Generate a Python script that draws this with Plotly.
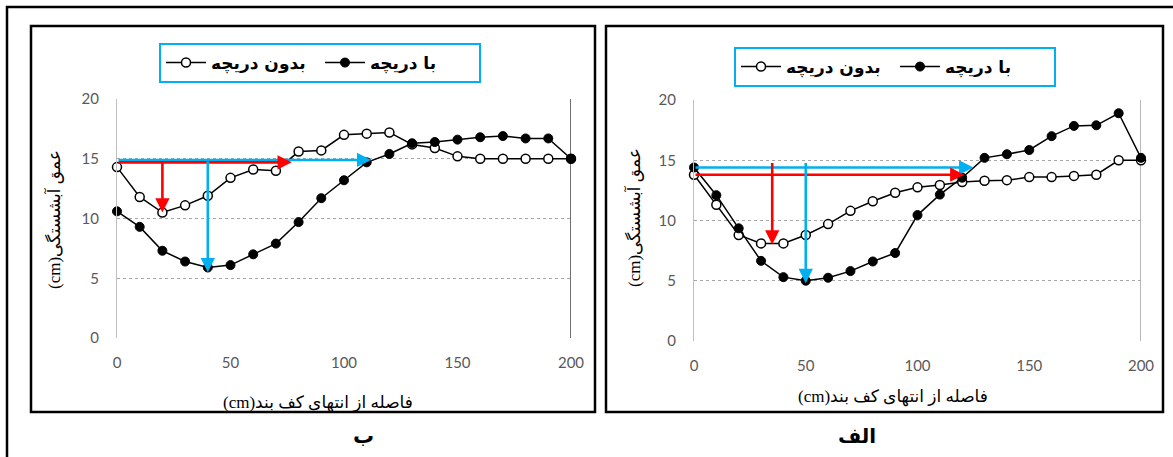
import plotly.graph_objects as go

# ---------------- data ----------------
distance = [0, 10, 20, 30, 40, 50, 60, 70, 80, 90, 100, 110, 120, 130, 140, 150, 160, 170, 180, 190, 200]

# panel "ب" (left)
b_without_gate = [14.3, 11.8, 10.5, 11.1, 11.9, 13.4, 14.1, 14.0, 15.6, 15.7, 17.0, 17.1, 17.2, 16.2, 15.9, 15.2, 15.0, 15.0, 15.0, 15.0, 15.0]
b_with_gate = [10.6, 9.3, 7.3, 6.4, 5.9, 6.1, 7.0, 7.9, 9.7, 11.7, 13.2, 14.7, 15.4, 16.3, 16.4, 16.6, 16.8, 16.9, 16.7, 16.7, 15.0]

# panel "الف" (right)
a_without_gate = [13.8, 11.3, 8.8, 8.1, 8.1, 8.8, 9.7, 10.8, 11.6, 12.3, 12.75, 12.95, 13.2, 13.3, 13.35, 13.6, 13.6, 13.7, 13.8, 15.0, 15.0]
a_with_gate = [14.4, 12.1, 9.35, 6.65, 5.3, 5.0, 5.25, 5.8, 6.6, 7.3, 10.45, 12.15, 13.55, 15.2, 15.5, 15.85, 17.0, 17.85, 17.9, 18.9, 15.2]

# arrows: (x_start, y_start, x_end, y_end, colour-key)
b_arrows = [
    (0, 14.9, 112, 14.9, "blue"),
    (0, 14.7, 77, 14.7, "red"),
    (20, 14.9, 20, 10.5, "red"),
    (40, 14.9, 40, 5.5, "blue"),
]
a_arrows = [
    (0, 14.4, 125, 14.4, "blue"),
    (0, 13.8, 121, 13.8, "red"),
    (35, 14.9, 35, 8.0, "red"),
    (50, 14.9, 50, 4.8, "blue"),
]

x_ticks = [0, 50, 100, 150, 200]
y_ticks = [0, 5, 10, 15, 20]

name_with = "با دریچه"
name_without = "بدون دریچه"
x_title = "(cm)فاصله از انتهای کف بند"
y_title = "(cm)عمق آبشستگی"
label_b = "ب"
label_a = "الف"

# ---------------- styling ----------------
W, H = 1173, 457
def fx(p):
    return p / W
def fy(p):
    return 1 - p / H

COLORS = {"blue": "#00b0f0", "red": "#ff0000"}
persian_font = "DejaVu Sans"
tick_font = dict(family="Lato, Open Sans, sans-serif", size=15, color="#595959")

fig = go.Figure()

def add_series(xa, ya, leg, open_vals, filled_vals):
    fig.add_trace(go.Scatter(
        x=distance, y=open_vals, name=name_without, mode="lines+markers",
        xaxis=xa, yaxis=ya, legend=leg, cliponaxis=False,
        line=dict(color="black", width=1.5),
        marker=dict(symbol="circle", size=9, color="white", line=dict(color="black", width=1.5)),
    ))
    fig.add_trace(go.Scatter(
        x=distance, y=filled_vals, name=name_with, mode="lines+markers",
        xaxis=xa, yaxis=ya, legend=leg, cliponaxis=False,
        line=dict(color="black", width=1.5),
        marker=dict(symbol="circle", size=9, color="black", line=dict(color="black", width=1)),
    ))

add_series("x", "y", "legend", b_without_gate, b_with_gate)
add_series("x2", "y2", "legend2", a_without_gate, a_with_gate)

def xaxis_cfg(dom, anchor):
    return dict(domain=dom, range=[0, 200], tickvals=x_ticks, showgrid=False, zeroline=False,
                showline=True, linecolor="white", linewidth=2, ticks="", anchor=anchor,
                tickfont=tick_font, ticklabelstandoff=10, fixedrange=True, automargin=False)

def yaxis_cfg(dom, anchor):
    return dict(domain=dom, range=[0, 20], tickvals=y_ticks, showgrid=True, gridcolor="#a6a6a6",
                griddash="dot", gridwidth=1, zeroline=False, showline=True, linecolor="#bfbfbf",
                linewidth=1, ticks="", anchor=anchor, tickfont=tick_font, ticklabelstandoff=14,
                fixedrange=True, automargin=False)

legend_common = dict(orientation="h", bgcolor="white", bordercolor="#00b0f0", borderwidth=2,
                     font=dict(family=persian_font, size=17, color="black", weight="bold"),
                     itemwidth=40, entrywidth=104, xanchor="center", yanchor="middle",
                     traceorder="normal", itemclick=False, itemdoubleclick=False)

fig.update_layout(
    width=W, height=H, autosize=False, margin=dict(l=0, r=0, t=0, b=0, pad=0, autoexpand=False),
    paper_bgcolor="white", plot_bgcolor="white", showlegend=True,
    xaxis=xaxis_cfg([fx(117), fx(571)], "y"),
    yaxis=yaxis_cfg([fy(338), fy(99)], "x"),
    xaxis2=xaxis_cfg([fx(694), fx(1141)], "y2"),
    yaxis2=yaxis_cfg([fy(341), fy(100)], "x2"),
    legend=dict(legend_common, x=fx(320), y=fy(63)),
    legend2=dict(legend_common, x=fx(895), y=fy(67)),
)

# arrows
annotations = []
for arrows, xr, yr in ((b_arrows, "x", "y"), (a_arrows, "x2", "y2")):
    for x0, y0, x1, y1, c in arrows:
        annotations.append(dict(
            x=x1, y=y1, ax=x0, ay=y0, xref=xr, yref=yr, axref=xr, ayref=yr,
            showarrow=True, arrowhead=2, arrowsize=1.1, arrowwidth=2.6,
            arrowcolor=COLORS[c], text="", standoff=0, startstandoff=0,
        ))

title_font = dict(family="Liberation Serif, DejaVu Sans", size=17, color="black")
annotations += [
    dict(x=fx(318), y=fy(403), xref="paper", yref="paper", text=x_title, showarrow=False,
         font=title_font, xanchor="center", yanchor="middle"),
    dict(x=fx(893), y=fy(397), xref="paper", yref="paper", text=x_title, showarrow=False,
         font=title_font, xanchor="center", yanchor="middle"),
    dict(x=fx(53), y=fy(220), xref="paper", yref="paper", text=y_title, showarrow=False,
         font=title_font, textangle=-90, xanchor="center", yanchor="middle"),
    dict(x=fx(633), y=fy(218), xref="paper", yref="paper", text=y_title, showarrow=False,
         font=title_font, textangle=-90, xanchor="center", yanchor="middle"),
    dict(x=fx(363), y=fy(436), xref="paper", yref="paper", text=label_b, showarrow=False,
         font=dict(family=persian_font, size=21, color="black", weight="bold"),
         xanchor="center", yanchor="middle"),
    dict(x=fx(857), y=fy(436), xref="paper", yref="paper", text=label_a, showarrow=False,
         font=dict(family=persian_font, size=20, color="black", weight="bold"),
         xanchor="center", yanchor="middle"),
]
fig.update_layout(annotations=annotations)

# frames
shapes = [
    dict(type="rect", xref="paper", yref="paper", x0=fx(7), y0=fy(470), x1=fx(1185), y1=fy(7),
         line=dict(color="black", width=2.5)),
    dict(type="rect", xref="paper", yref="paper", x0=fx(31), y0=fy(412), x1=fx(595), y1=fy(26),
         line=dict(color="black", width=2.5)),
    dict(type="rect", xref="paper", yref="paper", x0=fx(606), y0=fy(412), x1=fx(1163), y1=fy(26),
         line=dict(color="black", width=2.5)),
    dict(type="line", xref="x", yref="paper", x0=distance[-1], x1=distance[-1], y0=fy(338), y1=fy(99),
         line=dict(color="#404040", width=1.5), layer="below"),
    dict(type="line", xref="x2", yref="paper", x0=distance[-1], x1=distance[-1], y0=fy(341), y1=fy(100),
         line=dict(color="#a0a0a0", width=1.5), layer="below"),
]
fig.update_layout(shapes=shapes)

fig.write_html(
    "out.html",
    config={"responsive": False, "displayModeBar": False},
    post_script="document.documentElement.style.overflow='hidden';document.body.style.overflow='hidden';document.body.style.margin='0px';document.body.style.padding='0px';",
)
